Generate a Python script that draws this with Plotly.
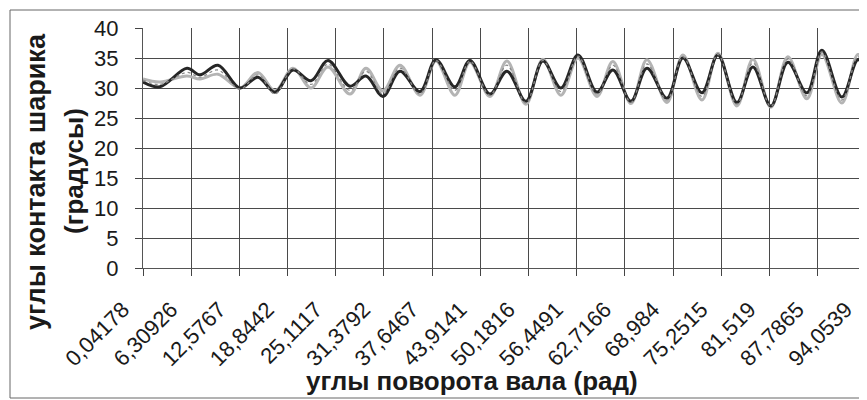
import plotly.graph_objects as go

# Category tick labels (as printed on the chart) and their values in rad
tick_labels = ["0,04178", "6,30926", "12,5767", "18,8442", "25,1117", "31,3792",
               "37,6467", "43,9141", "50,1816", "56,4491", "62,7166", "68,984",
               "75,2515", "81,519", "87,7865", "94,0539"]
tick_values = [float(s.replace(",", ".")) for s in tick_labels]

y_ticks = [0, 5, 10, 15, 20, 25, 30, 35, 40]

# shaft rotation angle (rad) at read-off points (extrema of the curves)
theta = [0.04, 2.25, 5.76, 7.45, 9.79, 12.65, 14.99, 17.21, 19.55, 21.89,
         24.10, 26.96, 29.04, 31.25, 33.46, 36.06, 38.14, 40.61, 42.56, 45.16,
         47.37, 49.84, 52.05, 54.39, 56.61, 59.08, 61.15, 63.50, 65.58, 68.18,
         70.26, 72.73, 74.81, 77.28, 79.36, 81.70, 83.91, 86.38, 88.33, 90.93,
         93.01, 94.05]

# ball contact angle (degrees), three series
series_dark = [31.0, 30.2, 33.3, 32.2, 33.8, 30.0, 31.8, 29.3, 33.0, 31.2,
               34.6, 30.3, 32.0, 28.6, 32.8, 29.4, 34.7, 30.2, 34.6, 29.0,
               32.8, 27.8, 34.5, 30.0, 35.5, 29.3, 33.0, 27.8, 33.3, 28.3,
               35.0, 29.2, 35.5, 27.6, 33.5, 27.0, 34.3, 29.2, 36.3, 28.5,
               34.7, 33.5]
series_light = [31.5, 31.0, 32.0, 31.5, 32.3, 30.0, 32.6, 29.5, 33.3, 30.0,
                33.5, 29.0, 33.3, 29.5, 33.8, 28.8, 34.5, 28.8, 34.3, 28.6,
                34.5, 27.3, 34.8, 28.8, 35.0, 28.6, 34.4, 27.4, 34.7, 27.6,
                35.5, 28.0, 35.8, 27.0, 34.8, 26.8, 35.2, 28.2, 35.6, 27.5,
                35.6, 34.0]
series_mid = [31.3, 30.6, 32.6, 31.8, 33.0, 29.8, 32.2, 29.0, 33.2, 30.6,
              34.0, 29.6, 32.8, 29.0, 33.3, 29.0, 34.6, 29.6, 34.5, 28.8,
              33.8, 27.5, 34.6, 29.4, 35.3, 29.0, 33.8, 27.6, 34.0, 28.0,
              35.2, 28.6, 35.6, 27.3, 34.2, 26.9, 34.8, 28.7, 36.0, 28.0,
              35.2, 33.8]

FONT = "Liberation Sans, Arial, sans-serif"

fig = go.Figure()
fig.add_trace(go.Scatter(x=theta, y=series_light, mode="lines",
                         line=dict(color="#b4b4b4", width=3, shape="spline"),
                         showlegend=False))
fig.add_trace(go.Scatter(x=theta, y=series_dark, mode="lines",
                         line=dict(color="#262626", width=3, shape="spline"),
                         showlegend=False))
fig.add_trace(go.Scatter(x=theta, y=series_mid, mode="lines",
                         line=dict(color="#8a8a8a", width=1.3, shape="spline",
                                   dash="dot"),
                         showlegend=False))

# the page body has an 8px margin, so the figure is drawn 8px in from the window edge
OFF = 8
W, H = 867 - OFF, 400 - OFF
L, R, T, B = 143 - OFF, 1, 28 - OFF, 132
pw, ph = W - L - R, H - T - B


def px_x(p):  # window pixel -> paper x
    return (p - 143) / pw


def px_y(p):  # window pixel -> paper y
    return (268 - p) / ph


fig.update_layout(
    width=W, height=H, autosize=False,
    margin=dict(l=L, r=R, t=T, b=B, pad=0),
    paper_bgcolor="white", plot_bgcolor="white",
    font=dict(family=FONT, color="#1a1a1a"),
    xaxis=dict(range=[tick_values[0], 94.07], tickmode="array",
               tickvals=tick_values, ticktext=tick_labels, tickangle=-45,
               tickfont=dict(size=22, family=FONT, color="#1a1a1a"),
               ticklabelshift=-20, ticklabelstandoff=12,
               showgrid=True, gridcolor="#4a4a4a", gridwidth=1,
               showline=True, linecolor="#555555", linewidth=1,
               ticks="outside", ticklen=7, tickcolor="#444444",
               zeroline=False),
    yaxis=dict(range=[0, 40], tickmode="array", tickvals=y_ticks,
               tickfont=dict(size=22, family=FONT, color="#1a1a1a"),
               showgrid=True, gridcolor="#4a4a4a", gridwidth=1,
               showline=True, linecolor="#555555", linewidth=1,
               ticks="outside", ticklen=7, tickcolor="#444444",
               ticklabelstandoff=12, zeroline=False),
    annotations=[
        dict(text="<b>углы поворота вала (рад)</b>", xref="paper", yref="paper",
             x=px_x(472), y=px_y(381), xanchor="center", yanchor="middle",
             showarrow=False, font=dict(size=26, family=FONT, color="#1a1a1a")),
        dict(text="<b>углы контакта шарика</b>", xref="paper", yref="paper",
             x=px_x(36), y=px_y(182), xanchor="center", yanchor="middle",
             textangle=-90, showarrow=False,
             font=dict(size=27, family=FONT, color="#1a1a1a")),
        dict(text="<b>(градусы)</b>", xref="paper", yref="paper",
             x=px_x(74), y=px_y(171), xanchor="center", yanchor="middle",
             textangle=-90, showarrow=False,
             font=dict(size=26, family=FONT, color="#1a1a1a")),
    ],
    shapes=[dict(type="rect", xref="paper", yref="paper",
                 x0=px_x(10), x1=px_x(865), y0=px_y(398), y1=px_y(10),
                 line=dict(color="#666666", width=1), layer="below")],
)

fig.write_html("out.html")
